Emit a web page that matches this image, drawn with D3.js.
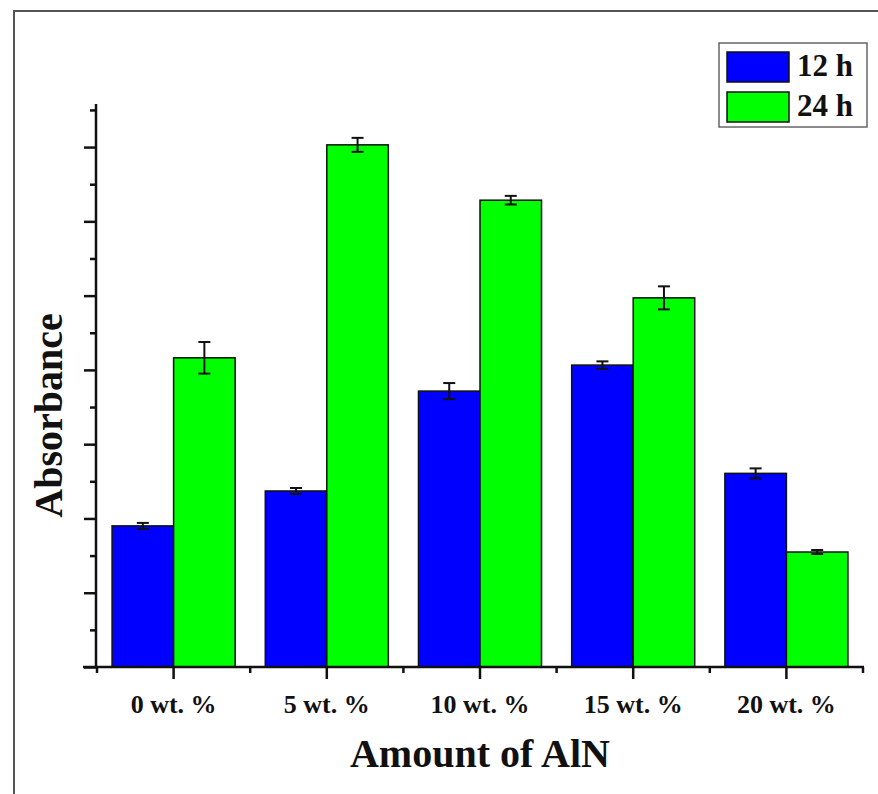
<!DOCTYPE html>
<html>
<head>
<meta charset="utf-8">
<script src="https://cdn.jsdelivr.net/npm/d3@7"></script>
<style>
  body { margin: 0; background: #fff; }
  svg { display: block; }
  text { font-family: "Liberation Serif", "Times New Roman", serif; font-weight: bold; }
</style>
</head>
<body>
<svg width="878" height="794"></svg>
<script>
const categories = ["0 wt. %", "5 wt. %", "10 wt. %", "15 wt. %", "20 wt. %"];
const series = ["12 h", "24 h"];
const colors = ["#0000ff", "#00ff00"];
const values12 = [1.9, 2.37, 3.715, 4.065, 2.607];
const errors12 = [0.04, 0.04, 0.108, 0.05, 0.067];
const values24 = [4.163, 7.03, 6.285, 4.97, 1.548];
const errors24 = [0.213, 0.094, 0.058, 0.155, 0.027];
const majorTicks = [0, 1, 2, 3, 4, 5, 6, 7];
const minorTicks = [0.5, 1.5, 2.5, 3.5, 4.5, 5.5, 6.5, 7.5];

const svg = d3.select("svg");

// outer frame of the figure
svg.append("rect")
  .attr("x", 14).attr("y", 11)
  .attr("width", 950).attr("height", 950)
  .attr("fill", "none")
  .attr("stroke", "#555")
  .attr("stroke-width", 2);

const plotLeft = 97, plotRight = 863, plotTop = 104, plotBottom = 667;

const x = d3.scaleBand().domain(categories).range([plotLeft, plotRight]).paddingInner(0).paddingOuter(0);
const x1 = d3.scaleBand().domain(series).range([0, x.bandwidth()]).paddingInner(0).paddingOuter(0.245);
const y = d3.scaleLinear().domain([0, 7.58]).range([plotBottom, plotTop]);

const data = [];
categories.forEach((c, i) => {
  data.push({ cat: c, s: series[0], v: values12[i], e: errors12[i], color: colors[0] });
  data.push({ cat: c, s: series[1], v: values24[i], e: errors24[i], color: colors[1] });
});

// bars
svg.selectAll("rect.bar")
  .data(data)
  .enter()
  .append("rect")
  .attr("class", "bar")
  .attr("x", (d) => x(d.cat) + x1(d.s))
  .attr("y", (d) => y(d.v))
  .attr("width", x1.bandwidth())
  .attr("height", (d) => y(0) - y(d.v))
  .attr("fill", (d) => d.color)
  .attr("stroke", "#111")
  .attr("stroke-width", 1.5);

// error bars
const eb = svg.selectAll("g.err")
  .data(data)
  .enter()
  .append("g")
  .attr("class", "err")
  .attr("transform", (d) => `translate(${x(d.cat) + x1(d.s) + x1.bandwidth() / 2},0)`)
  .attr("stroke", "#111")
  .attr("stroke-width", 2);
eb.append("line").attr("y1", (d) => y(d.v + d.e)).attr("y2", (d) => y(d.v - d.e));
eb.append("line").attr("x1", -6).attr("x2", 6).attr("y1", (d) => y(d.v + d.e)).attr("y2", (d) => y(d.v + d.e));
eb.append("line").attr("x1", -6).attr("x2", 6).attr("y1", (d) => y(d.v - d.e)).attr("y2", (d) => y(d.v - d.e));

// y axis
const yAxis = svg.append("g").attr("transform", `translate(${plotLeft - 1},0)`);
yAxis.call(d3.axisLeft(y).tickValues(majorTicks).tickSize(12).tickFormat(""));
yAxis.append("g").call(d3.axisLeft(y).tickValues(minorTicks).tickSize(6).tickFormat(""));
yAxis.selectAll(".domain").remove();
yAxis.append("line").attr("y1", y(0) + 1).attr("y2", plotTop).attr("stroke", "#111");
yAxis.selectAll("line").attr("stroke", "#111").attr("stroke-width", 2.5);

// x axis
const xAxis = svg.append("g").attr("transform", `translate(0,${plotBottom})`);
xAxis.call(d3.axisBottom(x).tickSize(12).tickPadding(16));
xAxis.select(".domain").remove();
const bounds = categories.map((c) => x(c)).concat([plotRight]);
xAxis.selectAll("line.minor")
  .data(bounds)
  .enter()
  .append("line")
  .attr("class", "minor")
  .attr("x1", (d) => d).attr("x2", (d) => d)
  .attr("y1", 0).attr("y2", 6);
xAxis.append("line").attr("x1", plotLeft - 14).attr("x2", plotRight + 1);
xAxis.selectAll("line").attr("stroke", "#111").attr("stroke-width", 2.5);
xAxis.selectAll("text")
  .attr("fill", "#111")
  .style("font-size", "26px")
  .style("font-family", "'Liberation Serif', 'Times New Roman', serif")
  .style("font-weight", "bold");

// axis titles
svg.append("text")
  .attr("x", (plotLeft + plotRight) / 2)
  .attr("y", 767)
  .attr("text-anchor", "middle")
  .attr("fill", "#111")
  .style("font-size", "40px")
  .text("Amount of AlN");

svg.append("text")
  .attr("transform", `translate(62,${(plotTop + plotBottom) / 2 + 30}) rotate(-90)`)
  .attr("text-anchor", "middle")
  .attr("fill", "#111")
  .style("font-size", "40px")
  .text("Absorbance");

// legend
const legend = svg.append("g");
legend.append("rect")
  .attr("x", 719).attr("y", 43)
  .attr("width", 148).attr("height", 84)
  .attr("fill", "#fff")
  .attr("stroke", "#666")
  .attr("stroke-width", 1.5);
const li = legend.selectAll("g.item")
  .data(series)
  .enter()
  .append("g")
  .attr("class", "item")
  .attr("transform", (d, i) => `translate(727,${52 + i * 40})`);
li.append("rect")
  .attr("width", 62).attr("height", 30)
  .attr("fill", (d, i) => colors[i])
  .attr("stroke", "#111")
  .attr("stroke-width", 1.5);
li.append("text")
  .attr("x", 70).attr("y", 24)
  .attr("fill", "#111")
  .style("font-size", "31px")
  .text((d) => d);
</script>
</body>
</html>
